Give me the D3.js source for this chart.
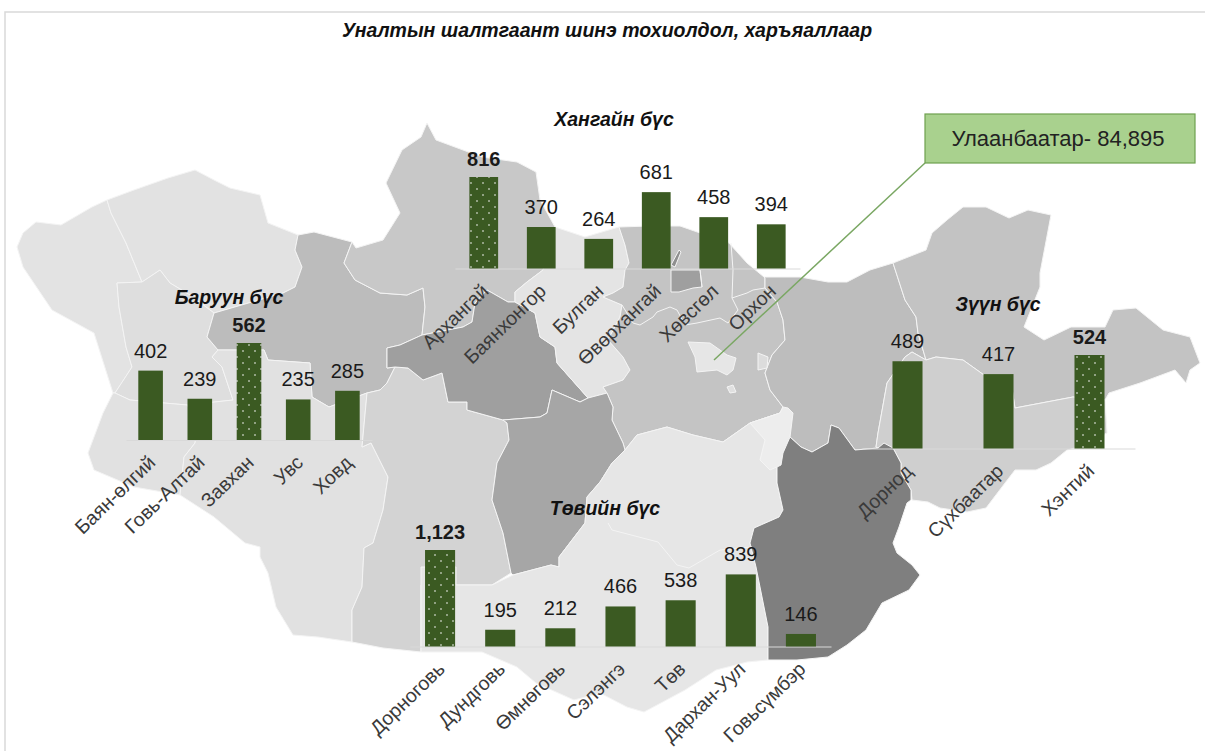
<!DOCTYPE html>
<html>
<head>
<meta charset="utf-8">
<script src="https://cdn.jsdelivr.net/npm/d3@7/dist/d3.min.js"></script>
<style>
  html, body { margin: 0; padding: 0; background: #fff; }
  text { font-family: "Liberation Sans", Arial, sans-serif; }
</style>
</head>
<body>
<div id="vis"></div>
<script>
// Frame
const FRAME_WIDTH = 1205;
const FRAME_HEIGHT = 751;

// Data, one set of arrays for every zone
const westNames = ["Баян-өлгий", "Говь-Алтай", "Завхан", "Увс", "Ховд"];
const westValues = [402, 239, 562, 235, 285];
const khangaiNames = ["Архангай", "Баянхонгор", "Булган", "Өвөрхангай", "Хөвсгөл", "Орхон"];
const khangaiValues = [816, 370, 264, 681, 458, 394];
const eastNames = ["Дорнод", "Сүхбаатар", "Хэнтий"];
const eastValues = [489, 417, 524];
const centralNames = ["Дорноговь", "Дундговь", "Өмнөговь", "Сэлэнгэ", "Төв", "Дархан-Уул", "Говьсүмбэр"];
const centralValues = [1123, 195, 212, 466, 538, 839, 146];
// The biggest value of each zone gets the dotted bar
const highlighted = ["Завхан", "Архангай", "Хэнтий", "Дорноговь"];

const titleText = "Уналтын шалтгаант шинэ тохиолдол, харъяаллаар";
const calloutText = "Улаанбаатар- 84,895";

// Background map, traced outlines in page pixels
const mapShapes = [
  {fill: "#e3e3e3", pts: [[17,247],[23,233],[36,222],[61,225],[92,207],[107,200],[111,213],[126,243],[142,282],[117,283],[119,307],[126,347],[132,367],[115,393],[113,393],[94,333],[52,310],[23,267]]},
  {fill: "#e2e2e2", pts: [[107,200],[134,190],[168,178],[195,170],[214,180],[230,188],[260,195],[268,223],[298,235],[295,250],[302,267],[295,287],[283,293],[214,313],[190,295],[170,283],[160,270],[142,282],[126,243],[111,213]]},
  {fill: "#dedede", pts: [[117,283],[142,282],[160,270],[170,283],[190,295],[214,313],[207,337],[218,350],[212,357],[222,367],[233,400],[187,405],[130,400],[115,393],[132,367],[126,347],[119,307]]},
  {fill: "#e1e1e1", pts: [[115,393],[130,400],[187,405],[195,415],[197,430],[195,443],[184,457],[180,495],[134,487],[94,470],[88,453],[103,413],[113,393]]},
  {fill: "#bcbcbc", pts: [[298,235],[314,232],[352,242],[344,263],[355,280],[380,293],[407,295],[423,288],[425,307],[422,335],[400,345],[387,348],[387,368],[395,367],[387,383],[380,390],[367,393],[329,407],[312,397],[310,363],[268,360],[264,350],[218,350],[207,337],[214,313],[283,293],[295,287],[302,267],[295,250]]},
  {fill: "#e1e1e1", pts: [[218,350],[264,350],[268,360],[310,363],[312,397],[329,407],[367,393],[362,447],[371,443],[388,477],[383,510],[373,543],[364,548],[362,587],[352,610],[352,642],[318,637],[293,635],[276,607],[268,573],[260,557],[260,547],[245,543],[214,517],[180,495],[184,457],[195,443],[197,430],[195,415],[187,405],[233,400],[222,367],[212,357]]},
  {fill: "#d3d3d3", pts: [[395,367],[408,368],[423,380],[442,373],[448,402],[467,402],[467,410],[503,420],[507,423],[509,440],[497,463],[492,500],[503,533],[511,573],[492,585],[421,585],[421,652],[383,648],[352,642],[352,610],[362,587],[364,548],[373,543],[383,510],[388,477],[371,443],[362,447],[367,393],[380,390],[387,383]]},
  {fill: "#c8c8c8", pts: [[352,242],[356,248],[383,240],[400,213],[386,183],[402,150],[421,137],[427,123],[436,140],[482,157],[517,162],[536,172],[540,200],[555,227],[543,270],[527,282],[515,292],[515,302],[508,302],[487,290],[475,303],[472,322],[463,327],[422,335],[425,307],[423,288],[407,295],[380,293],[355,280],[344,263]]},
  {fill: "#9f9f9f", pts: [[387,348],[400,345],[422,335],[463,327],[472,322],[475,303],[487,290],[508,302],[515,302],[535,313],[540,337],[555,347],[557,363],[588,398],[580,402],[552,390],[547,413],[540,417],[503,420],[467,410],[467,402],[448,402],[442,373],[423,380],[408,368],[395,367],[387,368]]},
  {fill: "#e4e4e4", pts: [[555,227],[585,237],[619,227],[625,245],[629,263],[625,270],[623,287],[613,293],[603,297],[622,305],[620,317],[608,340],[623,357],[630,370],[623,380],[603,387],[607,393],[588,398],[557,363],[555,347],[540,337],[535,313],[515,302],[515,292],[527,282],[543,270]]},
  {fill: "#c4c4c4", pts: [[619,227],[650,226],[680,226],[729,243],[747,263],[764,277],[765,278],[765,288],[777,302],[783,320],[785,340],[772,355],[765,373],[770,390],[783,407],[780,413],[750,423],[723,442],[693,435],[667,427],[637,435],[625,450],[623,443],[612,420],[613,407],[607,393],[603,387],[623,380],[630,370],[623,357],[608,340],[620,317],[622,305],[603,297],[613,293],[623,287],[625,270],[629,263],[625,245]]},
  {fill: "#a6a6a6", pts: [[503,420],[540,417],[547,413],[552,390],[580,402],[588,398],[607,393],[613,407],[612,420],[623,443],[625,450],[612,463],[600,482],[587,497],[585,523],[559,557],[559,567],[551,565],[513,575],[511,573],[503,533],[492,500],[497,463],[509,440],[507,423]]},
  {fill: "#e6e6e6", pts: [[513,575],[551,565],[559,567],[559,557],[585,523],[587,497],[600,482],[612,463],[625,450],[637,435],[667,427],[693,435],[723,442],[750,423],[780,413],[783,407],[788,408],[793,413],[790,437],[783,453],[781,465],[777,467],[777,483],[783,510],[779,517],[754,528],[750,543],[756,567],[762,597],[768,627],[768,660],[747,662],[716,670],[685,690],[644,712],[627,707],[600,693],[574,700],[536,683],[517,667],[482,652],[421,652],[421,567],[456,567],[456,585],[492,585]]},
  {fill: "#ededed", pts: [[750,423],[780,413],[783,407],[788,408],[793,413],[790,437],[783,453],[781,465],[770,470],[760,460],[765,440]]},
  {fill: "#bdbdbd", pts: [[764,277],[800,277],[828,282],[847,282],[870,270],[893,263],[905,300],[916,317],[918,333],[926,360],[912,352],[905,357],[887,383],[878,433],[876,447],[878,448],[855,450],[839,428],[831,425],[828,443],[812,452],[801,447],[790,437],[793,413],[788,408],[783,407],[770,390],[765,373],[772,355],[785,340],[783,320],[777,302],[765,288],[765,278]]},
  {fill: "#c3c3c3", pts: [[893,263],[926,250],[932,233],[947,220],[963,207],[986,207],[1009,218],[1028,210],[1051,215],[1040,273],[1040,287],[1024,327],[1044,340],[1071,327],[1105,327],[1113,310],[1136,308],[1163,330],[1190,337],[1200,363],[1190,370],[1186,383],[1175,370],[1140,383],[1109,393],[1105,400],[1073,397],[1015,408],[1010,375],[984,375],[963,360],[936,357],[926,360],[918,333],[916,317],[905,300]]},
  {fill: "#cfcfcf", pts: [[887,383],[905,357],[912,352],[926,360],[936,357],[963,360],[984,375],[1010,375],[1015,408],[1073,397],[1105,400],[1107,433],[1075,448],[1067,450],[1051,463],[1036,470],[1015,470],[1005,483],[986,508],[967,512],[940,508],[928,502],[912,500],[911,490],[901,473],[901,463],[893,448],[878,448],[876,447],[878,433]]},
  {fill: "#7f7f7f", pts: [[790,437],[801,447],[812,452],[828,443],[831,425],[839,428],[855,450],[878,448],[884,443],[893,448],[901,463],[901,473],[911,490],[911,500],[907,503],[899,527],[893,543],[897,553],[912,565],[920,575],[909,590],[882,603],[866,630],[847,645],[828,657],[797,660],[768,660],[768,627],[762,597],[756,567],[750,543],[754,528],[779,517],[783,510],[777,483],[777,467],[781,465],[783,453]]},
  {fill: "#9f9f9f", pts: [[671,270],[700,270],[702,287],[693,288],[679,292],[671,292]]},
  {fill: "#8f8f8f", pts: [[671,265],[679,250],[681,252],[675,267]]},
  {fill: "#e6e6e6", pts: [[688,342],[710,343],[727,355],[736,358],[733,370],[727,375],[717,370],[697,372],[695,357]]},
  {fill: "#dcdcdc", pts: [[758,353],[768,357],[767,368],[758,370]]},
  {fill: "#e0e0e0", pts: [[727,387],[733,385],[736,392],[730,393]]}
];
const mapLines = [
  [[608,523],[612,530],[658,542],[677,565],[689,568],[720,550],[752,547]],
  [[622,305],[633,323],[640,325],[653,317],[657,312],[670,307],[677,310],[685,325],[697,323],[720,318],[728,323],[738,310],[732,298],[747,293],[753,290],[765,288]],
  [[700,270],[702,287]],
  [[731,243],[733,270],[732,298]]
];

const FRAME = d3.select("#vis")
  .append("svg")
    .attr("width", FRAME_WIDTH)
    .attr("height", FRAME_HEIGHT)
    .style("display", "block");

// Dotted fill for the highlighted bars
const PATTERN = FRAME.append("defs").append("pattern")
    .attr("id", "dots")
    .attr("patternUnits", "userSpaceOnUse")
    .attr("width", 12)
    .attr("height", 12);
PATTERN.append("rect").attr("width", 12).attr("height", 12).attr("fill", "#3b5a22");
PATTERN.append("circle").attr("cx", 3).attr("cy", 3).attr("r", 0.8).attr("fill", "#fff");
PATTERN.append("circle").attr("cx", 9).attr("cy", 9).attr("r", 0.8).attr("fill", "#fff");

// Chart border, only the top and the left side show
FRAME.append("path")
    .attr("d", d3.line()([[1205, 12], [5, 12], [5, 751]]))
    .attr("fill", "none")
    .attr("stroke", "#d9d9d9")
    .attr("stroke-width", 1.5);

// Map
const mapLine = d3.line();
FRAME.append("g").selectAll("path")
  .data(mapShapes)
  .enter()
  .append("path")
    .attr("d", (d) => { return mapLine(d.pts) + "Z"; })
    .attr("fill", (d) => { return d.fill; })
    .attr("stroke", "#f4f4f4")
    .attr("stroke-width", 1);
FRAME.append("g").selectAll("path")
  .data(mapLines)
  .enter()
  .append("path")
    .attr("d", (d) => { return mapLine(d); })
    .attr("fill", "none")
    .attr("stroke", "#f4f4f4")
    .attr("stroke-width", 1);

// Function that draws the bars of one zone
function zoneBars(names, values, box) {
  const X_SCALE = d3.scaleBand()
    .domain(names)
    .range([box.left, box.right])
    .paddingInner(box.padding)
    .paddingOuter(box.padding / 2);
  const Y_SCALE = d3.scaleLinear()
    .domain([0, box.maxValue])
    .range([box.base, box.top]);

  // Axis with slanted names
  const axis = FRAME.append("g")
    .attr("transform", "translate(0," + box.base + ")")
    .call(d3.axisBottom(X_SCALE).tickSize(0).tickPadding(0));
  axis.select(".domain").attr("stroke", "#d9d9d9").attr("stroke-width", 1.2);
  axis.selectAll("text")
    .attr("font-family", "Liberation Sans")
    .attr("font-size", "19.5px")
    .attr("fill", "#3a3a3a")
    .attr("text-anchor", "end")
    .attr("dy", 0)
    .attr("y", 0)
    .attr("transform", "translate(6,24)rotate(-44)");

  const rows = d3.zip(names, values);
  FRAME.append("g").selectAll("rect")
    .data(rows)
    .enter()
    .append("rect")
      .attr("x", (d) => { return X_SCALE(d[0]); })
      .attr("y", (d) => { return Y_SCALE(d[1]); })
      .attr("width", X_SCALE.bandwidth())
      .attr("height", (d) => { return box.base - Y_SCALE(d[1]); })
      .attr("fill", (d) => { return highlighted.includes(d[0]) ? "url(#dots)" : "#3b5a22"; });

  FRAME.append("g").selectAll("text")
    .data(rows)
    .enter()
    .append("text")
      .attr("x", (d) => { return X_SCALE(d[0]) + X_SCALE.bandwidth() / 2; })
      .attr("y", (d) => { return Y_SCALE(d[1]) - (highlighted.includes(d[0]) ? 11 : 13); })
      .attr("text-anchor", "middle")
      .attr("font-size", "20px")
      .attr("font-weight", (d) => { return highlighted.includes(d[0]) ? "bold" : "normal"; })
      .attr("fill", "#1a1a1a")
      .text((d) => { return d3.format(",")(d[1]); });

  FRAME.append("text")
    .attr("x", box.titleX)
    .attr("y", box.titleY)
    .attr("text-anchor", "middle")
    .attr("font-size", "19.5px")
    .attr("font-weight", "bold")
    .attr("font-style", "italic")
    .attr("fill", "#111")
    .text(box.title);
}

zoneBars(westNames, westValues, {left: 126, right: 372, padding: 0.5, base: 440, maxValue: 562, top: 343,
  title: "Баруун бүс", titleX: 229, titleY: 304});
zoneBars(khangaiNames, khangaiValues, {left: 455, right: 800, padding: 0.5, base: 268.5, maxValue: 816, top: 177,
  title: "Хангайн бүс", titleX: 614, titleY: 126});
zoneBars(eastNames, eastValues, {left: 862, right: 1135, padding: 0.67, base: 448.5, maxValue: 524, top: 355,
  title: "Зүүн бүс", titleX: 998, titleY: 311});
zoneBars(centralNames, centralValues, {left: 410, right: 831, padding: 0.5, base: 646.5, maxValue: 1123, top: 550,
  title: "Төвийн бүс", titleX: 605, titleY: 515});

// Chart title
FRAME.append("text")
  .attr("x", 607)
  .attr("y", 37)
  .attr("text-anchor", "middle")
  .attr("font-size", "19.5px")
  .attr("font-weight", "bold")
  .attr("font-style", "italic")
  .attr("fill", "#111")
  .text(titleText);

// Callout for the capital
FRAME.append("line")
  .attr("x1", 925).attr("y1", 163)
  .attr("x2", 714).attr("y2", 360)
  .attr("stroke", "#7aa763")
  .attr("stroke-width", 1.5);
FRAME.append("rect")
  .attr("x", 925).attr("y", 114)
  .attr("width", 270).attr("height", 49)
  .attr("fill", "#a9d18e")
  .attr("stroke", "#6fa04f")
  .attr("stroke-width", 1.2);
FRAME.append("text")
  .attr("x", 1058)
  .attr("y", 146)
  .attr("text-anchor", "middle")
  .attr("font-size", "22px")
  .attr("fill", "#222")
  .text(calloutText);
</script>
</body>
</html>
